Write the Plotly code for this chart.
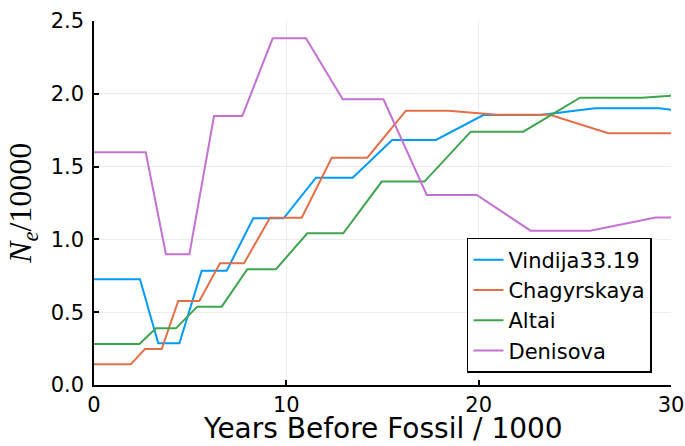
import plotly.graph_objects as go

# Effective population size (Ne / 10000) vs. years before fossil (/1000)
vindija_x = [0, 2.39, 3.34, 4.44, 5.6, 6.9, 8.28, 9.86, 11.54, 13.45, 15.5, 17.78, 20.24, 23.2, 26.05, 29.4, 30]
vindija_y = [0.726, 0.726, 0.286, 0.286, 0.785, 0.785, 1.145, 1.145, 1.424, 1.424, 1.683, 1.683, 1.854, 1.854, 1.90, 1.90, 1.89]

chagyrskaya_x = [0, 1.91, 2.65, 3.52, 4.38, 5.48, 6.55, 7.8, 9.15, 10.8, 12.36, 14.21, 16.22, 18.42, 20.94, 23.7, 26.74, 30]
chagyrskaya_y = [0.142, 0.142, 0.247, 0.247, 0.577, 0.577, 0.836, 0.836, 1.149, 1.149, 1.561, 1.561, 1.884, 1.884, 1.856, 1.856, 1.729, 1.729]

altai_x = [0, 2.36, 3.22, 4.26, 5.37, 6.64, 7.97, 9.46, 11.09, 12.96, 14.96, 17.18, 19.59, 22.32, 25.27, 28.48, 30]
altai_y = [0.282, 0.282, 0.389, 0.389, 0.538, 0.538, 0.795, 0.795, 1.042, 1.042, 1.397, 1.397, 1.74, 1.74, 1.973, 1.973, 1.987]

denisova_x = [0, 2.69, 3.74, 4.96, 6.24, 7.71, 9.29, 11.02, 12.93, 15.05, 17.3, 19.9, 22.7, 25.8, 29.2, 30]
denisova_y = [1.598, 1.598, 0.898, 0.898, 1.847, 1.847, 2.381, 2.381, 1.962, 1.962, 1.305, 1.305, 1.06, 1.06, 1.15, 1.15]

x_ticks = [0, 10, 20, 30]
y_ticks = [0.0, 0.5, 1.0, 1.5, 2.0, 2.5]

series = [
    ("Vindija33.19", vindija_x, vindija_y, "#009AFA"),
    ("Chagyrskaya", chagyrskaya_x, chagyrskaya_y, "#E36F47"),
    ("Altai", altai_x, altai_y, "#3EA44E"),
    ("Denisova", denisova_x, denisova_y, "#C371D2"),
]

fig = go.Figure()
for name, xs, ys, color in series:
    fig.add_trace(go.Scatter(x=xs, y=ys, mode="lines", name=name,
                             line=dict(color=color, width=2)))

sans = "DejaVu Sans"
axis_common = dict(
    showline=True, linecolor="black", linewidth=1.5,
    ticks="inside", ticklen=5, tickwidth=1.5, tickcolor="black",
    showgrid=True, gridcolor="#ececec", gridwidth=1,
    zeroline=False, automargin=False,
    tickfont=dict(family=sans, size=21, color="black"),
)

fig.update_layout(
    width=685, height=446,
    margin=dict(l=94, r=14, t=21, b=61),
    paper_bgcolor="white", plot_bgcolor="white",
    xaxis=dict(range=[0, 30], tickvals=x_ticks, ticklabelstandoff=0, **axis_common),
    yaxis=dict(range=[0, 2.5], tickvals=y_ticks, tickformat=".1f", ticklabelstandoff=4, **axis_common),
    legend=dict(x=0.967, xanchor="right", y=0.033, yanchor="bottom",
                bgcolor="white", bordercolor="black", borderwidth=1.5,
                font=dict(family=sans, size=21, color="black")),
    annotations=[
        dict(text="Years Before Fossil / 1000", xref="paper", yref="paper",
             x=0.5, y=-61 / 364, xanchor="center", yanchor="bottom", showarrow=False,
             borderpad=0, font=dict(family=sans, size=28, color="black")),
        dict(text="<i>N</i><sub><i>e</i></sub>/10000", xref="paper", yref="paper",
             x=-0.125, y=0.5, xanchor="center", yanchor="middle", textangle=-90,
             showarrow=False, font=dict(family="Liberation Serif", size=32, color="black")),
    ],
)

fig.write_html("out.html")
